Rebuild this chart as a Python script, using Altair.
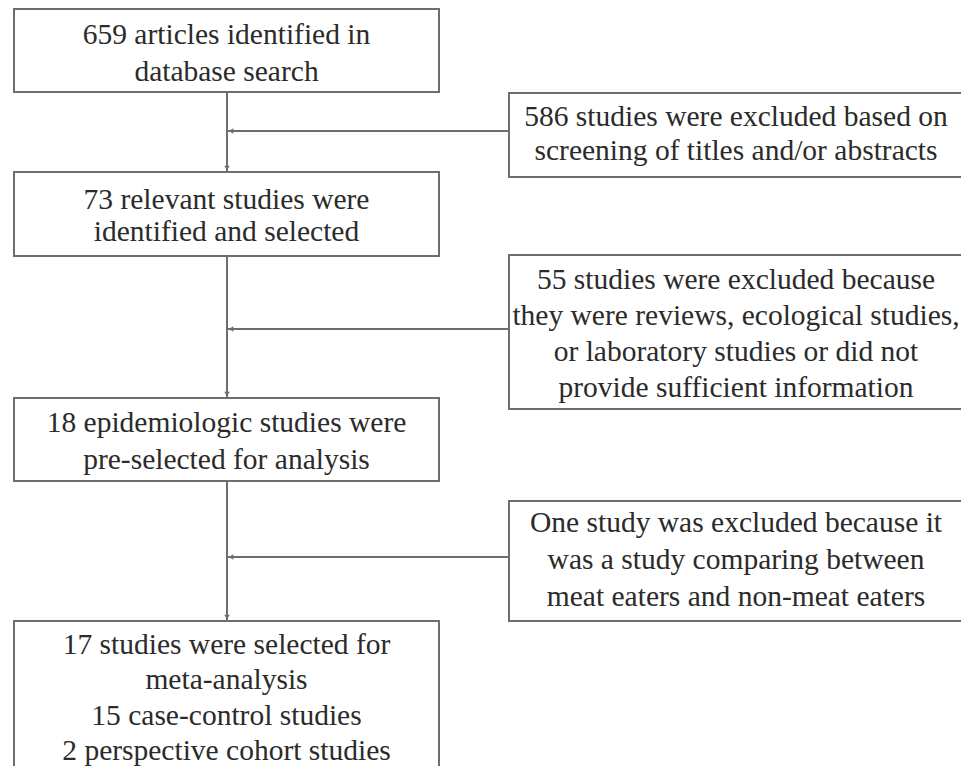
import altair as alt
import pandas as pd

# ---- content ----
main_texts = [
    ["659 articles identified in", "database search"],
    ["73 relevant studies were", "identified and selected"],
    ["18 epidemiologic studies were", "pre-selected for analysis"],
    ["17 studies were selected for", "meta-analysis", "15 case-control studies", "2 perspective cohort studies"],
]
excl_texts = [
    ["586 studies were excluded based on", "screening of titles and/or abstracts"],
    ["55 studies were excluded because", "they were reviews, ecological studies,", "or laboratory studies or did not", "provide sufficient information"],
    ["One study was excluded because it", "was a study comparing between", "meat eaters and non-meat eaters"],
]

# ---- layout (pixel space of the page) ----
main_x = (14, 439)
main_y = [(9, 92), (172, 256), (398, 481), (621, 800)]
main_text_c = [53.5, 216, 441, 698]
main_lh = [37, 32, 37, 35.5]

excl_x = (509, 980)
excl_y = [(93, 177), (255, 409), (501, 621)]
excl_text_c = [134, 334, 560]
excl_lh = [34, 36, 37]
excl_link_y = [131, 329, 557]
excl_text_x = 736

spine_x = 227

LINE = "#6e6e6e"
TXT = "#2b2b2b"
FONT = "Liberation Serif"
FS = 29.5

xs = alt.Scale(domain=[8, 961], nice=False, zero=False)
ys = alt.Scale(domain=[8, 766], nice=False, zero=False, reverse=True)

boxes = []
for (y0, y1) in main_y:
    boxes.append(dict(x0=main_x[0], x1=main_x[1], y0=y0, y1=y1))
for (y0, y1) in excl_y:
    boxes.append(dict(x0=excl_x[0], x1=excl_x[1], y0=y0, y1=y1))
boxes = pd.DataFrame(boxes)

rows = []
cx_main = (main_x[0] + main_x[1]) / 2
for lines, c, lh in zip(main_texts, main_text_c, main_lh):
    n = len(lines)
    for i, t in enumerate(lines):
        rows.append(dict(x=cx_main, y=c + (i - (n - 1) / 2) * lh, t=t))
for lines, c, lh in zip(excl_texts, excl_text_c, excl_lh):
    n = len(lines)
    for i, t in enumerate(lines):
        rows.append(dict(x=excl_text_x, y=c + (i - (n - 1) / 2) * lh, t=t))
texts = pd.DataFrame(rows)

segs = []
for i in range(len(main_y) - 1):
    segs.append(dict(x0=spine_x, x1=spine_x, y0=main_y[i][1], y1=main_y[i + 1][0]))
for ly in excl_link_y:
    segs.append(dict(x0=excl_x[0], x1=spine_x, y0=ly, y1=ly))
segs = pd.DataFrame(segs)

down_heads = pd.DataFrame([dict(x=spine_x, y=main_y[i + 1][0] - 4) for i in range(len(main_y) - 1)])
left_heads = pd.DataFrame([dict(x=spine_x + 4, y=ly) for ly in excl_link_y])

box_layer = alt.Chart(boxes).mark_rect(fill="white", stroke=LINE, strokeWidth=2, clip=True).encode(
    x=alt.X("x0:Q", scale=xs, axis=None), x2="x1:Q",
    y=alt.Y("y0:Q", scale=ys, axis=None), y2="y1:Q",
)
seg_layer = alt.Chart(segs).mark_rule(color=LINE, strokeWidth=2).encode(
    x=alt.X("x0:Q", scale=xs, axis=None), x2="x1:Q",
    y=alt.Y("y0:Q", scale=ys, axis=None), y2="y1:Q",
)
down_layer = alt.Chart(down_heads).mark_point(shape="triangle-down", filled=True, size=30, color=LINE, opacity=1).encode(
    x=alt.X("x:Q", scale=xs, axis=None), y=alt.Y("y:Q", scale=ys, axis=None)
)
left_layer = alt.Chart(left_heads).mark_point(shape="triangle-left", filled=True, size=30, color=LINE, opacity=1).encode(
    x=alt.X("x:Q", scale=xs, axis=None), y=alt.Y("y:Q", scale=ys, axis=None)
)
text_layer = alt.Chart(texts).mark_text(font=FONT, fontSize=FS, color=TXT, align="center", baseline="middle").encode(
    x=alt.X("x:Q", scale=xs, axis=None), y=alt.Y("y:Q", scale=ys, axis=None), text="t:N"
)

chart = alt.layer(seg_layer, box_layer, down_layer, left_layer, text_layer).properties(
    width=953, height=758, padding=0, autosize=alt.AutoSizeParams(type="none"), background="white"
).configure_view(stroke=None)

chart.save("out.html", embed_options={"renderer": "svg", "actions": False})
